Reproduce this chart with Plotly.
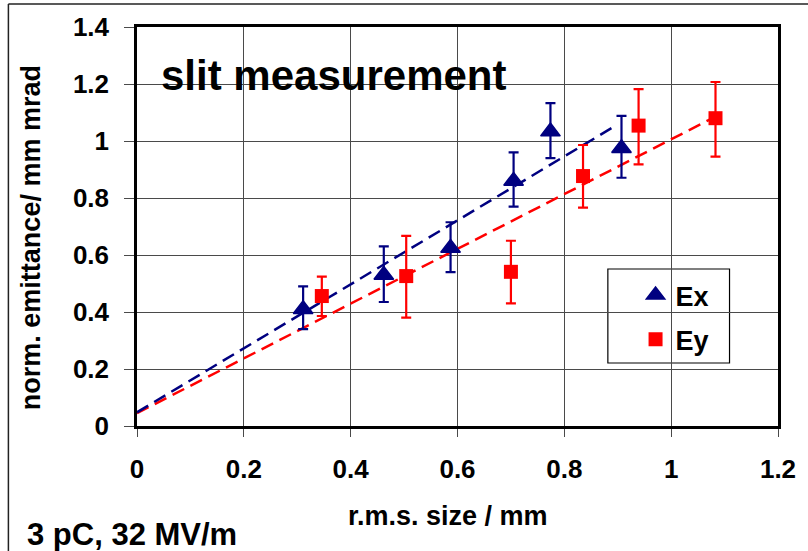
import plotly.graph_objects as go

# ---- data ----
ex_size = [0.311, 0.462, 0.587, 0.705, 0.774, 0.907]
ex_emit = [0.41, 0.53, 0.625, 0.86, 1.033, 0.975]
ex_err_plus = [0.08, 0.10, 0.09, 0.10, 0.10, 0.113]
ex_err_minus = [0.07, 0.095, 0.085, 0.09, 0.093, 0.104]

ey_size = [0.346, 0.504, 0.700, 0.835, 0.939, 1.083]
ey_emit = [0.456, 0.526, 0.541, 0.877, 1.054, 1.08]
ey_err_plus = [0.068, 0.141, 0.109, 0.109, 0.128, 0.127]
ey_err_minus = [0.07, 0.146, 0.111, 0.111, 0.136, 0.135]

ex_fit_x = [0.0, 0.898]
ex_fit_y = [0.048, 1.056]
ey_fit_x = [0.0, 1.074]
ey_fit_y = [0.045, 1.077]

x_ticks = [0, 0.2, 0.4, 0.6, 0.8, 1.0, 1.2]
x_tick_labels = ["0", "0.2", "0.4", "0.6", "0.8", "1", "1.2"]
y_ticks = [0, 0.2, 0.4, 0.6, 0.8, 1.0, 1.2, 1.4]
y_tick_labels = ["0", "0.2", "0.4", "0.6", "0.8", "1", "1.2", "1.4"]

NAVY = "#000080"
RED = "#FF0000"
FONT = "Liberation Sans, Arial, sans-serif"

fig = go.Figure()

fig.add_trace(go.Scatter(x=ey_fit_x, y=ey_fit_y, mode="lines", showlegend=False,
                         line=dict(color=RED, width=2.5, dash="13px,7px"), hoverinfo="skip"))
fig.add_trace(go.Scatter(x=ex_fit_x, y=ex_fit_y, mode="lines", showlegend=False,
                         line=dict(color=NAVY, width=2.5, dash="13px,7px"), hoverinfo="skip"))

fig.add_trace(go.Scatter(
    x=ex_size, y=ex_emit, mode="markers", name="<b>Ex</b>", legendgroup="ex",
    marker=dict(symbol="triangle-up", size=17, color=NAVY, line=dict(color=NAVY, width=1.5)),
    error_y=dict(type="data", symmetric=False, array=ex_err_plus, arrayminus=ex_err_minus,
                 color=NAVY, thickness=2.2, width=5)))
fig.add_trace(go.Scatter(
    x=ey_size, y=ey_emit, mode="markers", name="<b>Ey</b>", legendgroup="ey",
    marker=dict(symbol="square", size=14, color=RED),
    error_y=dict(type="data", symmetric=False, array=ey_err_plus, arrayminus=ey_err_minus,
                 color=RED, thickness=2.2, width=5)))

L, R, T, B = 137, 23, 27, 125
W, H = 808, 551
pw, ph = W - L - R, H - T - B


def px(xp):
    return (xp - L) / pw


def py(yp):
    return (H - B - yp) / ph


shapes = [
    # white box behind the title
    dict(type="rect", xref="paper", yref="paper", x0=px(145), x1=px(545), y0=py(107), y1=py(30),
         fillcolor="white", line=dict(width=0), layer="below"),
    # legend box
    dict(type="rect", xref="paper", yref="paper", x0=px(613), x1=px(736), y0=py(363), y1=py(269),
         fillcolor="white", line=dict(color="black", width=1.2), layer="below"),
    # outer frame (top and left)
    dict(type="line", xref="paper", yref="paper", x0=px(7), x1=px(820), y0=py(4), y1=py(4),
         line=dict(color="#222", width=1.5)),
    dict(type="line", xref="paper", yref="paper", x0=px(7), x1=px(7), y0=py(4), y1=py(560),
         line=dict(color="#222", width=1.5)),
]

annotations = [
    dict(text="<b>slit measurement</b>", xref="paper", yref="paper", x=px(336), y=py(75),
         showarrow=False, font=dict(family=FONT, size=42, color="black"),
         xanchor="center", yanchor="middle"),
    dict(text="<b>r.m.s. size / mm</b>", xref="paper", yref="paper", x=px(451), y=py(516),
         showarrow=False, font=dict(family=FONT, size=27, color="black"),
         xanchor="center", yanchor="middle"),
    dict(text="<b>norm. emittance/ mm mrad</b>", xref="paper", yref="paper", x=px(30), y=py(238),
         showarrow=False, textangle=-90, font=dict(family=FONT, size=27, color="black"),
         xanchor="center", yanchor="middle"),
    dict(text="<b>3 pC, 32 MV/m</b>", xref="paper", yref="paper", x=px(24), y=py(534),
         showarrow=False, font=dict(family=FONT, size=31, color="black"),
         xanchor="left", yanchor="middle"),
]

fig.update_layout(
    width=W, height=H,
    margin=dict(l=L, r=R, t=T, b=B),
    paper_bgcolor="white", plot_bgcolor="white",
    font=dict(family=FONT, color="black"),
    shapes=shapes, annotations=annotations,
    showlegend=True,
    legend=dict(x=px(641), y=py(271), xanchor="left", yanchor="top",
                bgcolor="rgba(0,0,0,0)", borderwidth=0,
                font=dict(family=FONT, size=27, color="black"),
                traceorder="grouped", tracegroupgap=6),
    xaxis=dict(range=[0, 1.2], tickvals=x_ticks, ticktext=x_tick_labels,
               showgrid=True, gridcolor="#4a4a4a", gridwidth=1.4,
               showline=True, linecolor="black", linewidth=2.5, mirror=True,
               ticks="outside", ticklen=8, tickcolor="#4a4a4a", tickwidth=1.4,
               tickfont=dict(family=FONT, size=26, color="black", weight="bold"),
               ticklabelstandoff=10, zeroline=False),
    yaxis=dict(range=[0, 1.4], tickvals=y_ticks, ticktext=y_tick_labels,
               showgrid=True, gridcolor="#4a4a4a", gridwidth=1.4,
               showline=True, linecolor="black", linewidth=2.5, mirror=True,
               ticks="outside", ticklen=10, tickcolor="#4a4a4a", tickwidth=1.4,
               tickfont=dict(family=FONT, size=26, color="black", weight="bold"),
               ticklabelstandoff=10, zeroline=False),
)

fig.write_html("out.html")
